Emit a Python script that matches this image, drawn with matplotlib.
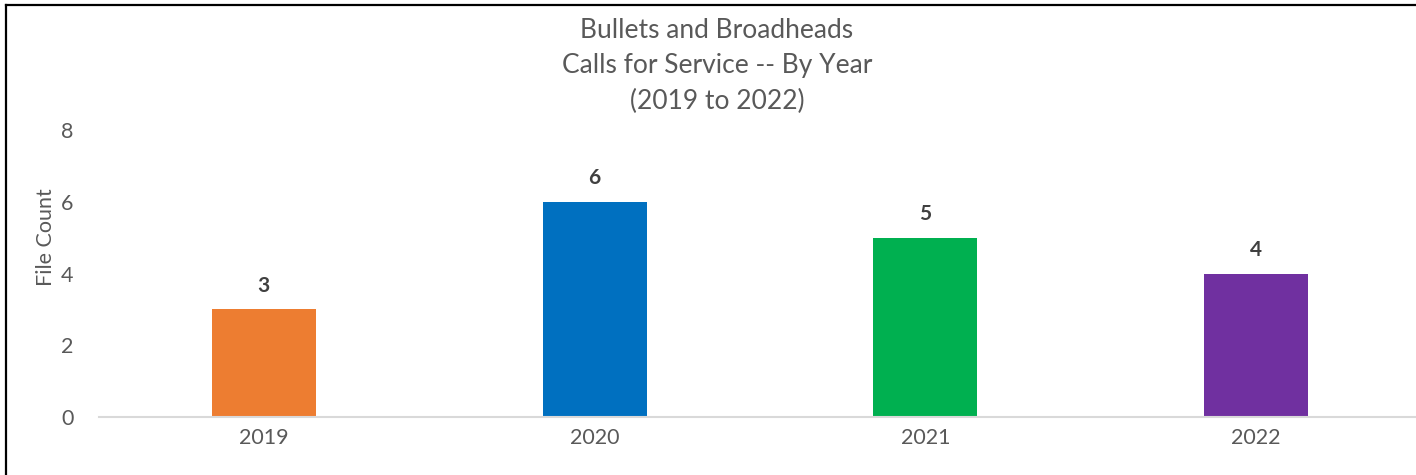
import matplotlib.pyplot as plt
from matplotlib.lines import Line2D

years = ["2019", "2020", "2021", "2022"]
counts = [3, 6, 5, 4]
colors = ["#ED7D31", "#0070C0", "#00B050", "#7030A0"]
title_lines = ["Bullets and Broadheads", "Calls for Service -- By Year", "(2019 to 2022)"]
yticks = [0, 2, 4, 6, 8]

plt.rcParams['font.family'] = ['Lato', 'DejaVu Sans']

W, H = 1416, 475
fig = plt.figure(figsize=(W / 100, H / 100), dpi=100)

# axes: x from 98.5 px to 1421.5 px, y from 130 px (top) to 417 px (bottom)
ax = fig.add_axes([98.5 / W, (H - 417) / H, 1323 / W, (417 - 130) / H])
x = list(range(len(years)))
bars = ax.bar(x, counts, width=0.315, color=colors, zorder=2)
ax.set_xlim(-0.5, 3.5)
ax.set_ylim(0, 8)
ax.set_yticks(yticks)
ax.set_xticks(x)
ax.set_xticklabels(years)
for s in ["top", "right", "left"]:
    ax.spines[s].set_visible(False)
ax.spines["bottom"].set_color("#D9D9D9")
ax.spines["bottom"].set_linewidth(1.5)
ax.tick_params(axis="both", length=0, colors="#595959", labelsize=15.5)
ax.tick_params(axis="x", pad=8)
ax.tick_params(axis="y", pad=18)
ax.set_ylabel("File Count", color="#595959", fontsize=15.5)
ax.yaxis.set_label_coords(-43 / 1323, (417 - 237) / 287)

for xi, v in zip(x, counts):
    ax.annotate(str(v), (xi, v), xytext=(0, 17), textcoords="offset points",
                ha="center", va="center", fontsize=15, fontweight="bold", color="#404040")

for i, line in enumerate(title_lines):
    fig.text(717 / W, 1 - (31 + 35 * i) / H, line, ha="center", va="center",
             fontsize=19, color="#595959")

fig.lines.append(Line2D([6 / W, 6 / W], [0, 1 - 4.5 / H], transform=fig.transFigure,
                        color="black", linewidth=1.6))
fig.lines.append(Line2D([6 / W, 1], [1 - 4.5 / H, 1 - 4.5 / H], transform=fig.transFigure,
                        color="black", linewidth=1.6))

fig.savefig("out.png", dpi=100)
